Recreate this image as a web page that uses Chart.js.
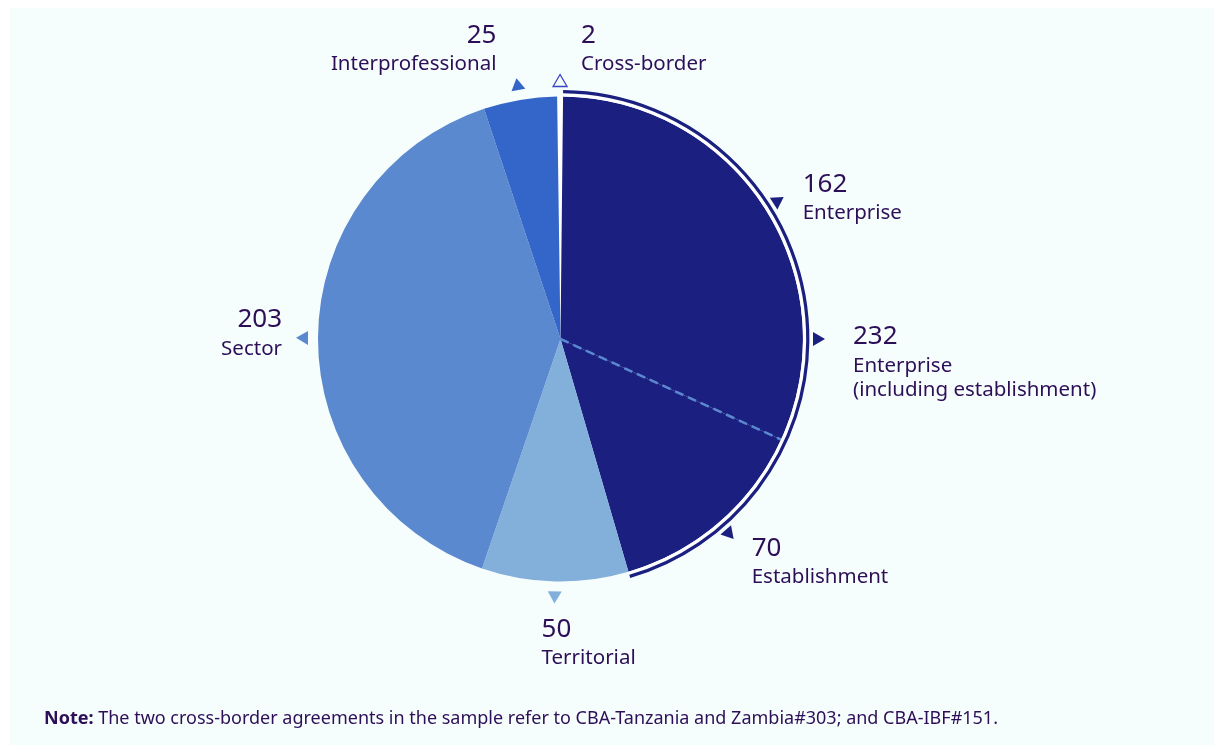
<!DOCTYPE html>
<html>
<head>
<meta charset="utf-8">
<script src="https://cdn.jsdelivr.net/npm/chart.js@4"></script>
<style>
  html, body { margin: 0; padding: 0; background: #ffffff; }
  body { width: 1214px; height: 749px; position: relative; overflow: hidden; font-family: "Noto Sans", sans-serif; }
  #panel { position: absolute; left: 10px; top: 8px; right: 0; bottom: 4px; background: #f6fdfd; }
  #wrap { position: absolute; left: 0; top: 0; width: 1214px; height: 749px; }
  #note { position: absolute; left: 44px; top: 705px; font-size: 18px; line-height: 24px; color: #2d0f57; white-space: nowrap; }
</style>
</head>
<body>
<div id="panel"></div>
<div id="wrap"><canvas id="pie"></canvas></div>
<div id="note"><b>Note:</b> The two cross-border agreements in the sample refer to CBA-Tanzania and Zambia#303; and CBA-IBF#151.</div>
<script>
// Data
const categories = ['Cross-border', 'Enterprise', 'Establishment', 'Territorial', 'Sector', 'Interprofessional'];
const counts = [2, 162, 70, 50, 203, 25];
const sliceColors = ['#ffffff', '#1a1f80', '#1a1f80', '#83afdb', '#5b89cf', '#3366c8'];
const markerColors = ['#3a45c4', '#1a1f80', '#1a1f80', '#83afdb', '#5b89cf', '#3366c8'];
// combined group (Enterprise including establishment)
const groupIdx = [1, 2];
const groupLines = ['Enterprise', '(including establishment)'];

const textColor = '#2d0f57';

// label placement relative to marker
const labelLayout = [
  { dx: 21, dy: -45, align: 'left' },
  { dx: 24, dy: -16, align: 'left' },
  { dx: 22, dy: 14, align: 'left' },
  { dx: -13, dy: 32, align: 'left' },
  { dx: -20, dy: -18, align: 'right' },
  { dx: -21, dy: -49, align: 'right' }
];
const groupLayout = { dx: 34, dy: -2, align: 'left', angle: 0 };

function drawMarker(ctx, x, y, ang, color, hollow) {
  // triangle pointing outward along ang
  const h = 12, w = 14;
  ctx.save();
  ctx.translate(x, y);
  ctx.rotate(ang);
  ctx.beginPath();
  ctx.moveTo(h / 2, 0);
  ctx.lineTo(-h / 2, -w / 2);
  ctx.lineTo(-h / 2, w / 2);
  ctx.closePath();
  if (hollow) {
    ctx.strokeStyle = color;
    ctx.lineWidth = 1.3;
    ctx.stroke();
  } else {
    ctx.fillStyle = color;
    ctx.fill();
  }
  ctx.restore();
}

function drawLabel(ctx, x, y, layout, lines) {
  ctx.save();
  ctx.fillStyle = textColor;
  ctx.textAlign = layout.align;
  ctx.textBaseline = 'middle';
  const tx = x + layout.dx;
  let ty = y + layout.dy;
  ctx.font = '26px "Noto Sans"';
  ctx.fillText(lines[0], tx, ty);
  ty += 29;
  ctx.font = '20.5px "Noto Sans"';
  for (let i = 1; i < lines.length; i++) {
    ctx.fillText(lines[i], tx, ty);
    ty += 24;
  }
  ctx.restore();
}

const decorations = {
  id: 'decorations',
  afterDatasetsDraw(chart) {
    const ctx = chart.ctx;
    const arcs = chart.getDatasetMeta(0).data;
    const cx = arcs[0].x, cy = arcs[0].y;
    const R = arcs[0].outerRadius;

    // dashed divider between Enterprise and Establishment
    const a = arcs[groupIdx[0]].endAngle;
    ctx.save();
    ctx.strokeStyle = '#5b89cf';
    ctx.lineWidth = 2.5;
    ctx.setLineDash([9, 5]);
    ctx.beginPath();
    ctx.moveTo(cx, cy);
    ctx.lineTo(cx + Math.cos(a) * R, cy + Math.sin(a) * R);
    ctx.stroke();
    ctx.restore();

    // outer bracket arc for the group
    const s = arcs[groupIdx[0]].startAngle;
    const e = arcs[groupIdx[groupIdx.length - 1]].endAngle;
    ctx.save();
    ctx.strokeStyle = '#ffffff';
    ctx.lineWidth = 3;
    ctx.beginPath();
    ctx.arc(cx, cy, R + 1.5, s, e);
    ctx.stroke();
    ctx.strokeStyle = '#1a1f80';
    ctx.lineWidth = 3.2;
    ctx.beginPath();
    ctx.arc(cx, cy, R + 4.8, s, e);
    ctx.stroke();
    ctx.restore();

    // markers and labels
    const rm = R + 16;
    arcs.forEach((arc, i) => {
      const mid = (arc.startAngle + arc.endAngle) / 2;
      const mx = cx + Math.cos(mid) * rm;
      const my = cy + Math.sin(mid) * rm;
      drawMarker(ctx, mx, my, mid, markerColors[i], i === 0);
      drawLabel(ctx, mx, my, labelLayout[i], [String(counts[i]), categories[i]]);
    });

    const total = groupIdx.reduce((t, i) => t + counts[i], 0);
    const ga = groupLayout.angle;
    const gx = cx + Math.cos(ga) * rm;
    const gy = cy + Math.sin(ga) * rm;
    drawMarker(ctx, gx, gy, ga, '#1a1f80', false);
    drawLabel(ctx, gx, gy, groupLayout, [String(total)].concat(groupLines));
  }
};

new Chart(document.getElementById('pie'), {
  type: 'pie',
  data: {
    labels: categories,
    datasets: [{
      data: counts,
      backgroundColor: sliceColors,
      borderWidth: 0
    }]
  },
  options: {
    responsive: true,
    maintainAspectRatio: false,
    animation: false,
    rotation: -0.8,
    layout: { padding: { left: 318, right: 411, top: 96, bottom: 167 } },
    plugins: {
      legend: { display: false },
      tooltip: { enabled: false }
    }
  },
  plugins: [decorations]
});
</script>
</body>
</html>
